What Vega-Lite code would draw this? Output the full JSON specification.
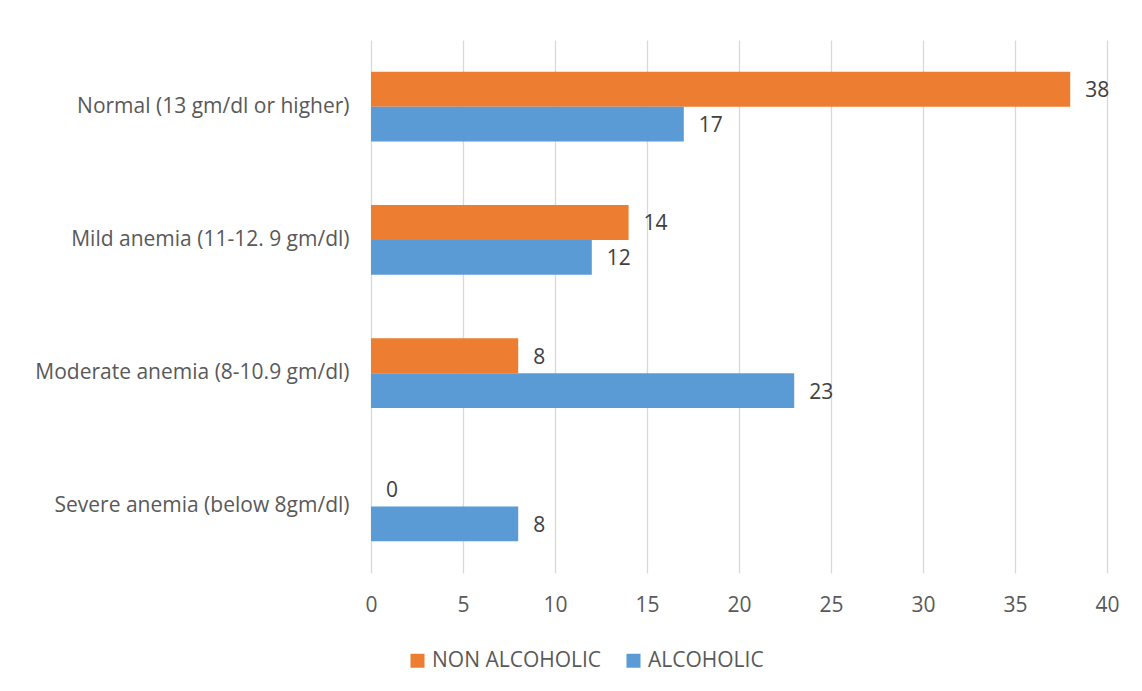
{
  "$schema": "https://vega.github.io/schema/vega-lite/v6.json",
  "width": 736,
  "height": 533,
  "autosize": "none",
  "padding": {"left": 371, "top": 40, "right": 35, "bottom": 118},
  "background": "white",
  "config": {
    "view": {"stroke": null},
    "font": "Open Sans",
    "axis": {"labelFont": "Open Sans", "labelColor": "#595959", "labelFontSize": 21}
  },
  "data": {
    "values": [
      {"category": "Normal (13 gm/dl or higher)", "group": "NON ALCOHOLIC", "value": 38},
      {"category": "Normal (13 gm/dl or higher)", "group": "ALCOHOLIC", "value": 17},
      {"category": "Mild anemia (11-12. 9 gm/dl)", "group": "NON ALCOHOLIC", "value": 14},
      {"category": "Mild anemia (11-12. 9 gm/dl)", "group": "ALCOHOLIC", "value": 12},
      {"category": "Moderate anemia (8-10.9 gm/dl)", "group": "NON ALCOHOLIC", "value": 8},
      {"category": "Moderate anemia (8-10.9 gm/dl)", "group": "ALCOHOLIC", "value": 23},
      {"category": "Severe anemia (below 8gm/dl)", "group": "NON ALCOHOLIC", "value": 0},
      {"category": "Severe anemia (below 8gm/dl)", "group": "ALCOHOLIC", "value": 8}
    ]
  },
  "encoding": {
    "y": {
      "field": "category",
      "type": "nominal",
      "sort": null,
      "title": null,
      "scale": {"paddingInner": 0.475, "paddingOuter": 0.2375},
      "axis": {"domain": false, "ticks": false, "labelPadding": 22, "grid": false, "labelLimit": 400}
    },
    "yOffset": {
      "field": "group",
      "type": "nominal",
      "sort": ["NON ALCOHOLIC", "ALCOHOLIC"]
    },
    "x": {
      "field": "value",
      "type": "quantitative",
      "title": null,
      "scale": {"domain": [0, 40], "nice": false},
      "axis": {
        "values": [0, 5, 10, 15, 20, 25, 30, 35, 40],
        "domain": false,
        "ticks": false,
        "grid": true,
        "gridColor": "#D9D9D9",
        "gridWidth": 1.3,
        "labelPadding": 21,
        "labelFlush": false
      }
    }
  },
  "layer": [
    {
      "mark": {"type": "bar"},
      "encoding": {
        "color": {
          "field": "group",
          "type": "nominal",
          "sort": ["NON ALCOHOLIC", "ALCOHOLIC"],
          "scale": {"domain": ["NON ALCOHOLIC", "ALCOHOLIC"], "range": ["#ED7D31", "#5B9BD5"]},
          "legend": {
            "title": null,
            "orient": "none",
            "direction": "horizontal",
            "legendX": 36,
            "legendY": 610,
            "symbolType": "square",
            "symbolSize": 196,
            "symbolStrokeWidth": 0,
            "labelFont": "Open Sans",
            "labelFontSize": 21,
            "labelColor": "#595959",
            "labelOffset": 4,
            "labelLimit": 400,
            "columnPadding": 21
          }
        }
      }
    },
    {
      "mark": {"type": "text", "align": "left", "baseline": "middle", "dx": 15, "dy": 2, "font": "Open Sans", "fontSize": 21, "color": "#404040"},
      "encoding": {
        "text": {"field": "value", "type": "quantitative"}
      }
    }
  ]
}
